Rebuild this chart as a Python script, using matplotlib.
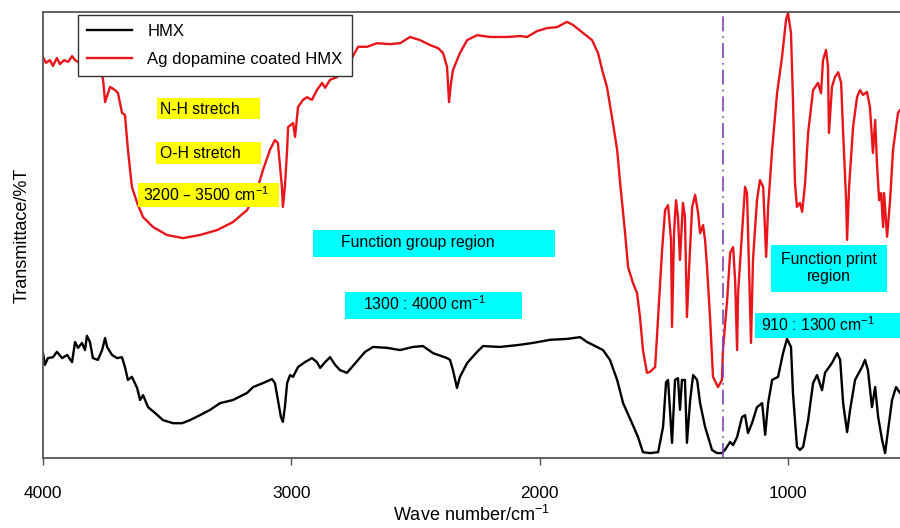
import matplotlib
matplotlib.use("Agg")
import matplotlib.pyplot as plt
from matplotlib.patches import Rectangle

plt.rcParams["font.family"] = ["Liberation Sans", "DejaVu Sans"]
plt.rcParams["mathtext.default"] = "regular"

# Ag dopamine coated HMX spectrum (wave number, transmittance)
coated_wn = [4000, 3988, 3972, 3960, 3944, 3932, 3915, 3899, 3883, 3871, 3859, 3811, 3770,
             3758, 3750, 3730, 3710, 3698, 3682, 3670, 3658, 3642, 3621, 3597, 3557, 3501,
             3436, 3368, 3299, 3235, 3178, 3138, 3114, 3086, 3066, 3054, 3038, 3034, 3026,
             3017, 3013, 2993, 2985, 2973, 2953, 2937, 2917, 2897, 2876, 2864, 2844, 2816,
             2792, 2776, 2731, 2695, 2655, 2603, 2562, 2522, 2482, 2442, 2409, 2389, 2373,
             2365, 2357, 2349, 2321, 2292, 2252, 2200, 2131, 2079, 2051, 2011, 1970, 1930,
             1890, 1866, 1825, 1789, 1765, 1745, 1729, 1709, 1688, 1676, 1656, 1644, 1624,
             1608, 1596, 1584, 1568, 1556, 1535, 1523, 1507, 1495, 1483, 1471, 1467, 1459,
             1451, 1443, 1435, 1423, 1415, 1407, 1398, 1386, 1374, 1362, 1354, 1342, 1334,
             1326, 1314, 1302, 1282, 1266, 1262, 1245, 1233, 1221, 1213, 1205, 1201, 1185,
             1173, 1165, 1157, 1149, 1141, 1125, 1113, 1100, 1088, 1080, 1064, 1044, 1024,
             1008, 1000, 988, 980, 972, 964, 952, 943, 931, 919, 899, 879, 867, 859, 847,
             839, 835, 823, 811, 798, 786, 778, 766, 762, 754, 738, 722, 710, 698, 682, 670,
             658, 649, 641, 633, 625, 617, 613, 601, 589, 577, 557, 549]
coated_t = [89.9, 88.6, 89.2, 87.9, 89.7, 88.3, 89.2, 88.8, 90.1, 89.2, 88.8, 88.8, 87.4,
            84.8, 79.8, 83.2, 82.5, 81.8, 77.4, 76.9, 69.1, 60.8, 57.2, 54.0, 51.8, 50.0,
            49.3, 50.0, 51.1, 52.9, 55.6, 60.1, 64.6, 69.1, 71.3, 70.6, 60.8, 56.3, 60.8,
            69.1, 74.2, 75.1, 72.0, 78.7, 80.3, 80.9, 80.3, 82.5, 84.1, 83.0, 84.8, 85.4,
            87.7, 87.7, 92.2, 92.2, 93.0, 92.8, 93.0, 94.4, 93.7, 92.6, 91.9, 90.8, 87.7,
            79.8, 84.1, 87.0, 90.8, 93.7, 94.8, 94.4, 94.4, 94.6, 94.4, 95.7, 96.4, 96.6,
            97.8, 97.1, 95.3, 93.7, 90.8, 86.3, 83.2, 76.5, 69.1, 61.7, 50.4, 42.8, 39.2,
            37.0, 31.6, 24.2, 19.1, 19.3, 20.4, 31.6, 46.6, 55.6, 56.7, 48.9, 29.4, 50.4,
            57.8, 54.0, 44.4, 57.2, 54.0, 31.6, 42.8, 56.3, 59.0, 54.9, 50.4, 52.2, 48.9,
            42.8, 31.6, 18.2, 15.9, 17.5, 24.2, 35.4, 46.0, 47.3, 39.9, 24.2, 37.0, 50.4,
            60.8, 59.4, 42.8, 25.8, 44.4, 57.8, 62.3, 60.8, 45.1, 56.3, 69.1, 81.8, 89.9,
            98.2, 99.8, 95.3, 80.3, 61.7, 56.3, 57.2, 55.2, 61.7, 72.9, 82.5, 84.1, 81.8,
            89.2, 91.5, 87.7, 72.9, 83.2, 85.4, 86.5, 84.1, 72.9, 57.8, 48.9, 60.8, 74.2,
            80.9, 82.5, 81.4, 82.1, 78.7, 68.4, 75.8, 65.2, 57.8, 59.4, 51.8, 59.4, 49.6,
            57.8, 69.1, 77.4, 78.0]

# Pure HMX spectrum
hmx_wn = [4000, 3992, 3980, 3960, 3944, 3923, 3903, 3883, 3871, 3859, 3843, 3831, 3823,
          3811, 3799, 3779, 3762, 3750, 3742, 3722, 3702, 3682, 3670, 3658, 3642, 3621,
          3609, 3597, 3577, 3549, 3517, 3476, 3440, 3408, 3368, 3327, 3287, 3235, 3178,
          3154, 3114, 3078, 3066, 3054, 3042, 3034, 3026, 3017, 3005, 2993, 2973, 2945,
          2917, 2897, 2884, 2864, 2844, 2824, 2804, 2776, 2756, 2731, 2703, 2671, 2615,
          2562, 2510, 2470, 2429, 2373, 2361, 2349, 2333, 2321, 2292, 2252, 2228, 2160,
          2091, 2027, 1958, 1890, 1837, 1809, 1769, 1745, 1717, 1688, 1664, 1628, 1604,
          1584, 1556, 1523, 1503, 1491, 1483, 1471, 1467, 1455, 1443, 1435, 1427, 1415,
          1407, 1394, 1382, 1366, 1354, 1334, 1306, 1286, 1266, 1254, 1233, 1221, 1205,
          1185, 1173, 1161, 1145, 1125, 1104, 1092, 1080, 1064, 1040, 1020, 1004, 988,
          980, 964, 952, 939, 919, 899, 883, 863, 851, 823, 802, 790, 778, 762, 750, 730,
          702, 690, 678, 662, 649, 637, 621, 609, 597, 581, 565, 549]
hmx_t = [23.5, 20.9, 22.4, 22.6, 23.8, 22.4, 23.1, 21.5, 26.0, 24.7, 25.8, 24.2, 27.4,
         26.0, 22.4, 22.0, 24.2, 26.9, 24.9, 23.1, 22.4, 22.6, 20.4, 17.5, 18.2, 15.7,
         13.0, 14.1, 11.4, 10.1, 8.5, 7.8, 7.8, 8.5, 9.6, 10.8, 12.3, 13.0, 14.6,
         15.9, 16.8, 17.7, 16.8, 13.0, 9.2, 8.1, 11.4, 16.8, 18.6, 18.2, 20.4, 21.5,
         22.4, 21.5, 20.2, 21.5, 22.6, 20.9, 19.7, 19.1, 20.4, 22.0, 23.8, 24.9, 24.7,
         24.2, 24.9, 25.1, 23.5, 22.4, 22.0, 19.7, 15.7, 18.2, 21.3, 23.8, 25.1, 24.9,
         25.3, 25.8, 26.5, 26.7, 27.1, 26.0, 24.9, 24.2, 22.0, 17.5, 12.3, 7.8, 4.7,
         1.3, 1.1, 1.3, 7.0, 17.0, 17.5, 7.0, 3.4, 17.5, 17.9, 10.8, 17.5, 17.5,
         3.4, 13.0, 18.6, 17.5, 12.3, 7.0, 1.8, 1.1, 1.1, 1.8, 3.6, 2.9, 4.7,
         9.2, 9.6, 5.6, 7.8, 11.4, 12.3, 5.2, 12.3, 17.5, 18.2, 23.5, 26.7, 24.9,
         14.6, 2.5, 1.8, 2.5, 8.5, 16.8, 18.6, 15.2, 19.1, 21.3, 23.5, 22.0, 12.3, 5.8,
         10.8, 17.5, 20.4, 22.0, 19.7, 11.4, 15.9, 9.2, 4.0, 1.1, 6.3, 13.0, 15.9, 14.6]

x_ticks = [4000, 3000, 2000, 1000]
region_split = 1262

fig = plt.figure(figsize=(9, 5.28), dpi=100)
ax = fig.add_axes([43 / 900, 70 / 528, 857 / 900, 446 / 528])

ax.plot(hmx_wn, hmx_t, color="black", lw=1.7, label="HMX")
ax.plot(coated_wn, coated_t, color="#e8161b", lw=1.7, label="Ag dopamine coated HMX")
ax.axvline(region_split, color="#7d44b8", lw=1.2, linestyle=(0, (9, 3, 1, 3)))

ax.set_xlim(4000, 549)
ax.set_ylim(0, 100)
ax.set_xticks(x_ticks)
ax.set_xticklabels([str(t) for t in x_ticks], fontsize=12.5)
ax.set_yticks([])
ax.tick_params(axis="x", length=5, width=1, color="#555555", pad=15)
for side in ["left", "bottom", "top"]:
    ax.spines[side].set_color("#555555")
    ax.spines[side].set_linewidth(1.3)
ax.spines["right"].set_visible(False)

ax.set_xlabel("Wave number/cm$^{-1}$", fontsize=13, labelpad=3)
ax.set_ylabel("Transmittace/%T", fontsize=13, labelpad=9)

leg = ax.legend(loc="upper left", bbox_to_anchor=(35 / 857, 443 / 446), borderaxespad=0,
                fontsize=12, frameon=True, fancybox=False, edgecolor="#333333",
                framealpha=1, handlelength=2.7, handletextpad=0.9, borderpad=0.55,
                labelspacing=0.75)
leg.get_frame().set_linewidth(1.0)


def label_box(left, top, right, bottom, text, color, tx, ty, ha="center"):
    # box and text placed in figure pixels
    fig.add_artist(Rectangle((left / 900, 1 - bottom / 528), (right - left) / 900,
                             (bottom - top) / 528, transform=fig.transFigure,
                             facecolor=color, edgecolor="none", zorder=3))
    fig.text(tx / 900, 1 - ty / 528, text, ha=ha, va="center", fontsize=11.3,
             zorder=4, linespacing=1.15)


label_box(157, 98, 260, 119, "N-H stretch", "#ffff00", 160, 109, ha="left")
label_box(156, 142, 261, 164, "O-H stretch", "#ffff00", 160, 153, ha="left")
label_box(138, 183, 279, 207, "3200 \u2013 3500 cm$^{-1}$", "#ffff00", 143, 195, ha="left")
label_box(313, 230, 555, 257, "Function group region", "#00ffff", 418, 243)
label_box(345, 292, 522, 319, "1300 : 4000 cm$^{-1}$", "#00ffff", 424, 304)
label_box(771, 245, 887, 292, "Function print\nregion", "#00ffff", 829, 268)
label_box(755, 313, 900, 338, "910 : 1300 cm$^{-1}$", "#00ffff", 818, 325)

fig.savefig("out.png", dpi=100)
